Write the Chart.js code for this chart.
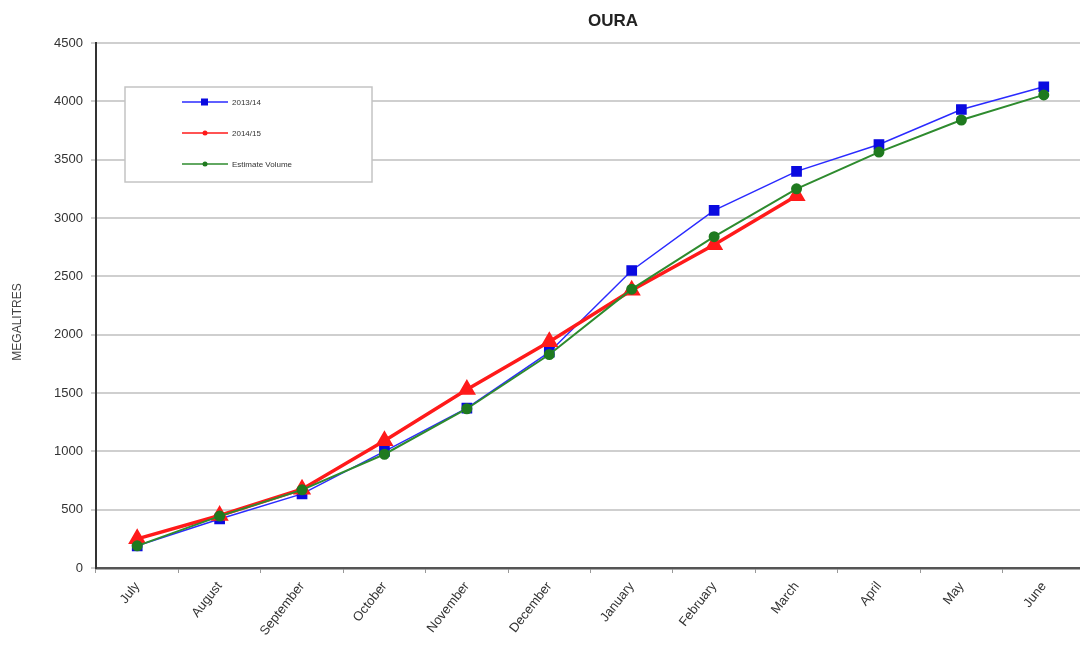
<!DOCTYPE html>
<html>
<head>
<meta charset="utf-8">
<script src="https://cdn.jsdelivr.net/npm/chart.js@4/dist/chart.umd.min.js"></script>
<style>
  html, body { margin: 0; padding: 0; background: #fff; overflow: hidden; }
  #wrap { width: 1080px; height: 656px; position: relative; overflow: hidden; }
  #c { display: block; }
</style>
</head>
<body>
<div id="wrap"><canvas id="c" width="1085" height="656"></canvas></div>
<script>
// Months of the water year
const months = ['July', 'August', 'September', 'October', 'November', 'December',
                'January', 'February', 'March', 'April', 'May', 'June'];

// Cumulative volumes, megalitres
const season1314 = [190, 420, 635, 1000, 1370, 1850, 2550, 3065, 3400, 3630, 3930, 4125];
const season1415 = [250, 450, 675, 1090, 1530, 1940, 2380, 2770, 3190, null, null, null];
const estimateVolume = [190, 445, 670, 975, 1365, 1830, 2390, 2840, 3250, 3565, 3840, 4055];

const yTicks = [0, 500, 1000, 1500, 2000, 2500, 3000, 3500, 4000, 4500];

const FONT = '"Liberation Sans", Arial, sans-serif';

// Boxed legend drawn inside the plot area
const boxLegend = {
  id: 'boxLegend',
  afterDraw(chart) {
    const ctx = chart.ctx;
    const x0 = 125, y0 = 87, w = 247, h = 95;
    ctx.save();
    ctx.fillStyle = '#ffffff';
    ctx.fillRect(x0, y0, w, h);
    ctx.strokeStyle = '#c4c4c4';
    ctx.lineWidth = 1.5;
    ctx.strokeRect(x0, y0, w, h);
    chart.data.datasets.forEach((ds, i) => {
      const y = y0 + 15 + i * 31;
      ctx.strokeStyle = ds.borderColor;
      ctx.lineWidth = 1.5;
      ctx.beginPath();
      ctx.moveTo(182, y);
      ctx.lineTo(228, y);
      ctx.stroke();
      ctx.fillStyle = ds.pointBackgroundColor;
      if (i === 0) {
        ctx.fillRect(201, y - 3.5, 7, 7);
      } else {
        ctx.beginPath();
        ctx.arc(205, y, 2.5, 0, Math.PI * 2);
        ctx.fill();
      }
      ctx.fillStyle = '#333';
      ctx.font = '8px ' + FONT;
      ctx.textBaseline = 'middle';
      ctx.fillText(ds.label, 232, y + 0.5);
    });
    ctx.restore();
  }
};

// Chart title and vertical axis caption
const captions = {
  id: 'captions',
  afterDraw(chart) {
    const ctx = chart.ctx;
    ctx.save();
    ctx.fillStyle = '#222';
    ctx.font = 'bold 17px ' + FONT;
    ctx.textAlign = 'center';
    ctx.textBaseline = 'middle';
    ctx.fillText('OURA', 613, 21);
    ctx.translate(18, 322);
    ctx.rotate(-Math.PI / 2);
    ctx.font = '12px ' + FONT;
    ctx.fillStyle = '#444';
    ctx.fillText('MEGALITRES', 0, 0);
    ctx.restore();
  }
};

new Chart(document.getElementById('c'), {
  type: 'line',
  data: {
    labels: months,
    datasets: [
      {
        label: '2013/14',
        data: season1314,
        borderColor: '#2a2aff',
        backgroundColor: '#0a0ae0',
        pointBackgroundColor: '#0a0ae0',
        pointBorderColor: '#0a0ae0',
        borderWidth: 1.5,
        pointStyle: 'rect',
        pointRadius: 6.5,
        order: 3
      },
      {
        label: '2014/15',
        data: season1415,
        borderColor: '#ff1a1a',
        backgroundColor: '#ff1a1a',
        pointBackgroundColor: '#ff1a1a',
        pointBorderColor: '#ff1a1a',
        borderWidth: 3.5,
        pointStyle: 'triangle',
        pointRadius: 7,
        order: 2
      },
      {
        label: 'Estimate Volume',
        data: estimateVolume,
        borderColor: '#2e8b2e',
        backgroundColor: '#1f7a1f',
        pointBackgroundColor: '#1f7a1f',
        pointBorderColor: '#1f7a1f',
        borderWidth: 2,
        pointStyle: 'circle',
        pointRadius: 4.5,
        order: 1
      }
    ]
  },
  options: {
    responsive: false,
    animation: false,
    layout: { autoPadding: false, padding: { top: 43, right: 0, left: 0, bottom: 0 } },
    plugins: {
      legend: { display: false },
      title: { display: false },
      tooltip: { enabled: false }
    },
    scales: {
      x: {
        type: 'category',
        offset: true,
        afterFit(scale) {
          scale.height = 88;
          scale.paddingLeft = 0;
          scale.paddingRight = 0;
        },
        border: { color: '#555', width: 2.5 },
        grid: { display: true, drawOnChartArea: false, offset: true, tickLength: 5, color: '#999' },
        ticks: {
          minRotation: 52,
          maxRotation: 52,
          autoSkip: false,
          color: '#333',
          font: { family: FONT, size: 13 },
          padding: 6
        }
      },
      y: {
        min: 0,
        max: 4500,
        afterFit(scale) {
          scale.width = 96;
          scale.paddingTop = 0;
          scale.paddingBottom = 0;
        },
        afterBuildTicks(scale) { scale.ticks = yTicks.map(v => ({ value: v })); },
        border: { color: '#333', width: 2 },
        grid: { color: '#cfcfcf', lineWidth: 2, tickLength: 5 },
        ticks: {
          color: '#333',
          font: { family: FONT, size: 13 },
          padding: 8,
          callback: v => String(v)
        }
      }
    }
  },
  plugins: [boxLegend, captions]
});
</script>
</body>
</html>
